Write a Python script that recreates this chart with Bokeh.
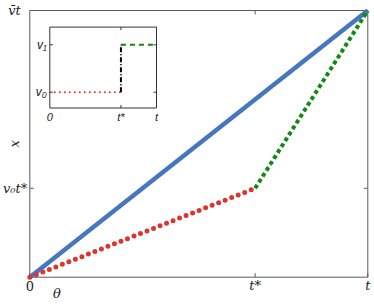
from bokeh.plotting import figure
from bokeh.models import Range1d
from bokeh.core.properties import value
from bokeh.embed import file_html
from bokeh.resources import INLINE

# ---------------- data ----------------
T = 1.0
T_STAR = 2.0 / 3.0
V0 = 0.5
V1 = 2.0
VBAR = 1.0

blue_x = [0.0, T]
blue_y = [0.0, VBAR * T]
red_x = [0.0, T_STAR]
red_y = [0.0, V0 * T_STAR]
green_x = [T_STAR, T]
green_y = [V0 * T_STAR, V0 * T_STAR + V1 * (T - T_STAR)]

x_tick_vals = [0.0, T_STAR, T]
x_tick_labels = ["0", "t*", "t"]
x_top_ticks = [T_STAR]
y_tick_vals = [V0 * T_STAR, VBAR * T]
y_tick_labels = ["v\u2080t*", "v\u0304t"]
y_right_ticks = [V0 * T_STAR]
x_title = "\u03b8"
y_title = "x"

inset_x_ticks = [0.0, T_STAR, T]
inset_x_labels = ["0", "t*", "t"]
inset_y_ticks = [V0, V1]
inset_y_labels = ["v\u2080", "v\u2081"]
inset_red_x = [0.0, T_STAR]
inset_red_y = [V0, V0]
inset_black_x = [T_STAR, T_STAR]
inset_black_y = [V0, V1]
inset_green_x = [T_STAR, T]
inset_green_y = [V1, V1]
INSET_YMAX = 2.56

# ---------------- geometry (pixels on the canvas) ----------------
W, H = 374, 307
M_LEFT, M_TOP = 29.3, 10.0          # main box corner
M_XPX = 338.0                        # px per unit theta
M_YPX = 266.7                        # px per unit x
I_LEFT, I_ZERO = 49.3, 107.5         # inset left edge, inset y=0 line
I_XPX, I_YPX = 106.7, 31.6

AX_COL = "#5a5a5a"
TXT = "#222222"
BLUE = "#4676be"
RED = "#dc3530"
GREEN = "#128a12"
SERIF = value("DejaVu Serif")
SANS = value("Liberation Sans")

m_bottom = M_TOP + M_YPX
p = figure(width=W, height=H, output_backend="svg", toolbar_location=None,
           x_range=Range1d(-M_LEFT / M_XPX, (W - M_LEFT) / M_XPX),
           y_range=Range1d(-(H - m_bottom) / M_YPX, 1.0 + M_TOP / M_YPX),
           min_border=0, x_axis_location=None, y_axis_location=None)
p.grid.visible = False
p.outline_line_color = None
p.background_fill_color = "white"
p.border_fill_color = "white"

dx = 1.0 / M_XPX   # one pixel in data units
dy = 1.0 / M_YPX
X0, X1, Y0, Y1 = 0.0, T, 0.0, VBAR * T

# main box
p.quad(left=[X0], right=[X1], bottom=[Y0], top=[Y1], fill_color=None,
       line_color=AX_COL, line_width=1)
# ticks (inward, 4 px)
tk = 4.0
p.segment(x0=x_tick_vals, x1=x_tick_vals, y0=[Y0] * len(x_tick_vals),
          y1=[Y0 + tk * dy] * len(x_tick_vals), line_color=AX_COL)
p.segment(x0=x_top_ticks, x1=x_top_ticks, y0=[Y1] * len(x_top_ticks),
          y1=[Y1 - tk * dy] * len(x_top_ticks), line_color=AX_COL)
p.segment(x0=[X0] * len(y_tick_vals), x1=[X0 + tk * dx] * len(y_tick_vals),
          y0=y_tick_vals, y1=y_tick_vals, line_color=AX_COL)
p.segment(x0=[X1] * len(y_right_ticks), x1=[X1 - tk * dx] * len(y_right_ticks),
          y0=y_right_ticks, y1=y_right_ticks, line_color=AX_COL)

# main curves
p.line(blue_x, blue_y, line_color=BLUE, line_width=4.5)
p.line(red_x, red_y, line_color=RED, line_width=5, line_dash="0 7", line_cap="round")
p.line(green_x, green_y, line_color=GREEN, line_width=4, line_dash="4 3")

# tick labels ("0" upright, symbols italic)
for xv, lab in zip(x_tick_vals, x_tick_labels):
    p.text(x=[xv], y=[Y0 - 8.3 * dy], text=[lab],
           text_align="center", text_baseline="middle", text_font=SERIF,
           text_font_size="13px", text_font_style="normal" if lab == "0" else "italic",
           text_color=TXT)
y_gap = [2.5, 9.0]
p.text(x=[X0 - g * dx for g in y_gap], y=y_tick_vals, text=y_tick_labels,
       text_align="right", text_baseline="middle", text_font=SERIF,
       text_font_size="13px", text_font_style="italic", text_color=TXT)
# axis titles
p.text(x=[X0 - 15.0 * dx], y=[(Y0 + Y1) / 2], text=[y_title], angle=1.5708,
       text_align="center", text_baseline="middle", text_font=SERIF,
       text_font_size="13px", text_font_style="italic", text_color=TXT)
p.text(x=[X0 + 27.0 * dx], y=[Y0 - 16.5 * dy], text=[x_title],
       text_align="center", text_baseline="middle", text_font=SERIF,
       text_font_size="13px", text_font_style="italic", text_color=TXT)

# ---------------- inset (own ranges) ----------------
p.extra_x_ranges = {"ix": Range1d(-I_LEFT / I_XPX, (W - I_LEFT) / I_XPX)}
p.extra_y_ranges = {"iy": Range1d(-(H - I_ZERO) / I_YPX, I_ZERO / I_YPX)}
kw = dict(x_range_name="ix", y_range_name="iy")
idx = 1.0 / I_XPX
idy = 1.0 / I_YPX

p.quad(left=[0.0], right=[T], bottom=[0.0], top=[INSET_YMAX], fill_color="white",
       line_color="#333333", line_width=1, **kw)
it = 3.0
n = len(inset_y_ticks)
p.segment(x0=[0.0] * n, x1=[it * idx] * n, y0=inset_y_ticks, y1=inset_y_ticks,
          line_color="#333333", **kw)
p.segment(x0=[T] * n, x1=[T - it * idx] * n, y0=inset_y_ticks, y1=inset_y_ticks,
          line_color="#333333", **kw)
p.segment(x0=[T_STAR], x1=[T_STAR], y0=[INSET_YMAX], y1=[INSET_YMAX - it * idy],
          line_color="#333333", **kw)
p.segment(x0=[T_STAR], x1=[T_STAR], y0=[0.0], y1=[it * idy],
          line_color="#333333", **kw)

p.line(inset_red_x, inset_red_y, line_color=RED, line_width=2, line_dash="0 5",
       line_cap="round", **kw)
p.line(inset_black_x, inset_black_y, line_color="black", line_width=2,
       line_dash="5 2 1 2", **kw)
p.line(inset_green_x, inset_green_y, line_color=GREEN, line_width=2,
       line_dash="5 4", **kw)

p.text(x=inset_x_ticks, y=[-9.0 * idy] * len(inset_x_ticks), text=inset_x_labels,
       text_align="center", text_baseline="middle", text_font=SANS,
       text_font_size="11px", text_font_style="italic", text_color=TXT, **kw)
p.text(x=[-3.0 * idx] * n, y=inset_y_ticks, text=inset_y_labels,
       text_align="right", text_baseline="middle", text_font=SANS,
       text_font_size="12px", text_font_style="italic", text_color=TXT, **kw)

open("out.html", "w").write(file_html(p, INLINE))
